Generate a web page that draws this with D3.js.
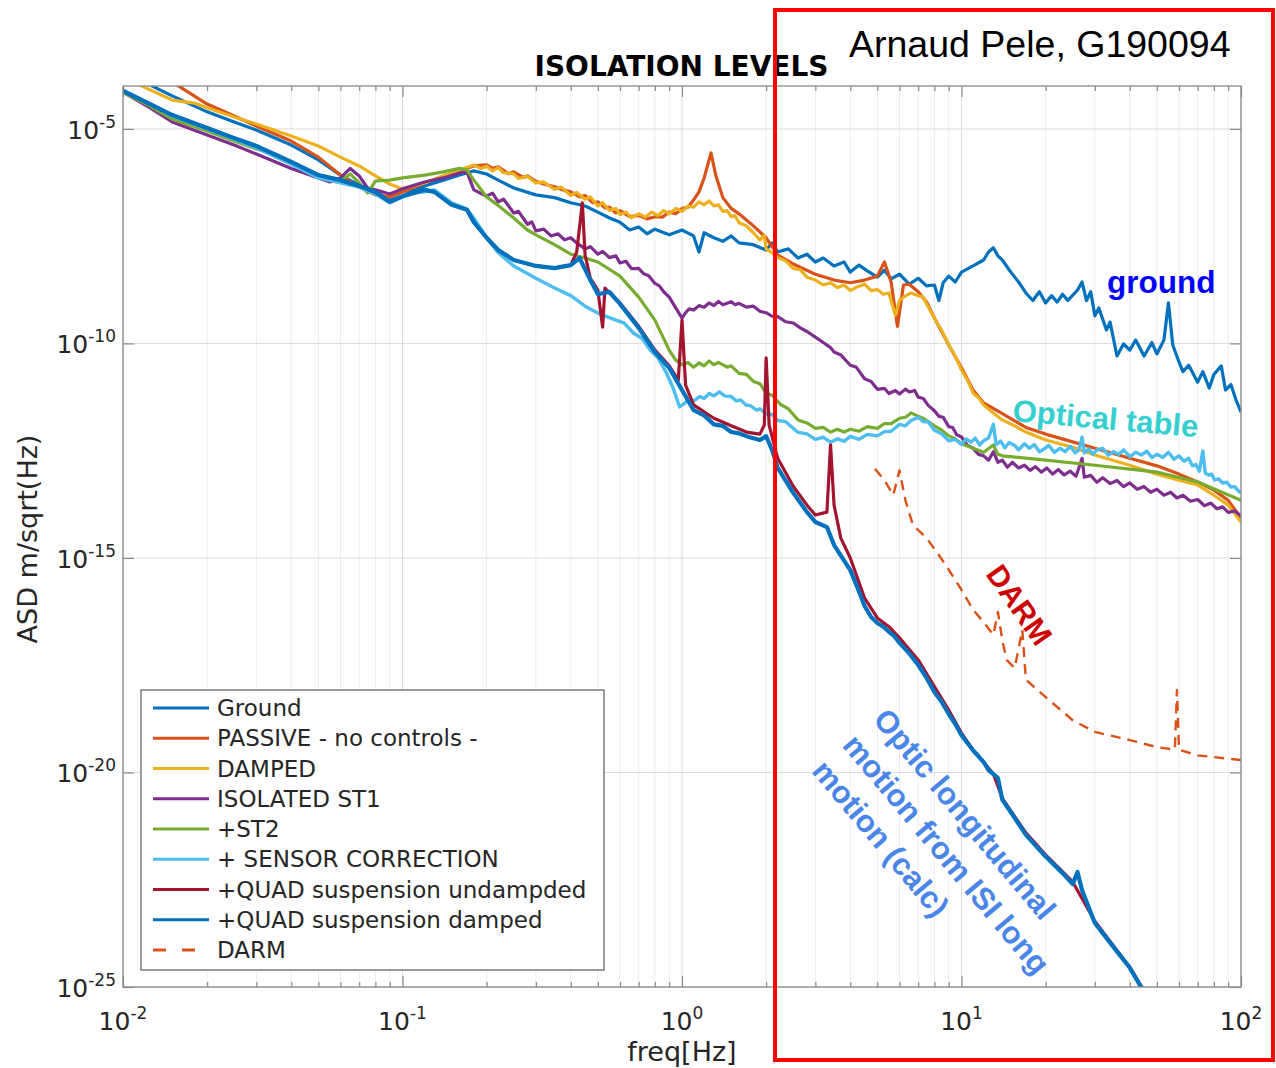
<!DOCTYPE html>
<html>
<head>
<meta charset="utf-8">
<script src="https://cdn.jsdelivr.net/npm/d3@7"></script>
<style>
  body { margin: 0; background: #fff; }
</style>
</head>
<body>
<svg id="chart" width="1276" height="1068"></svg>
<script>
// ---- data: [frequency (Hz), ASD (m/sqrt(Hz))] ----
const ground = [[0.01,1.8e-4],[0.0125,1.05e-4],[0.015,5.9e-5],[0.02,2.5e-5],[0.025,1.45e-5],[0.03,9.4e-6],[0.04,4.2e-6],[0.05,1.9e-6],[0.06,8.4e-7],[0.07,4.9e-7],[0.08,3.4e-7],[0.09,2.2e-7],[0.1,2.7e-7],[0.11,3.8e-7],[0.12,4.7e-7],[0.14,6.4e-7],[0.16,8.4e-7],[0.18,1.05e-6],[0.2,8.9e-7],[0.22,6.4e-7],[0.25,4.2e-7],[0.3,2.9e-7],[0.35,2.5e-7],[0.4,1.9e-7],[0.45,1.6e-7],[0.5,1.15e-7],[0.55,8.4e-8],[0.6,6.7e-8],[0.65,4.4e-8],[0.7,5.2e-8],[0.75,3.6e-8],[0.8,4.6e-8],[0.9,3.4e-8],[1.0,4.4e-8],[1.1,3.2e-8],[1.15,1.35e-8],[1.2,3.8e-8],[1.3,2.9e-8],[1.4,2.4e-8],[1.5,3.2e-8],[1.6,2.2e-8],[1.8,2.0e-8],[2.0,1.5e-8],[2.1,2.2e-8],[2.2,1.35e-8],[2.4,1.6e-8],[2.6,9.8e-9],[2.8,1.2e-8],[3.0,7.9e-9],[3.2,9.8e-9],[3.5,6.4e-9],[3.8,7.9e-9],[4.0,4.6e-9],[4.3,6.7e-9],[4.6,4.9e-9],[5.0,3.5e-9],[5.3,5.1e-9],[5.6,3.2e-9],[6.0,4.1e-9],[6.5,2.4e-9],[7.0,3.3e-9],[7.5,2.2e-9],[8.0,2.3e-9],[8.3,1.0e-9],[8.6,2.6e-9],[9.0,3.7e-9],[9.5,2.7e-9],[10,4.6e-9],[11,6.4e-9],[12,8.8e-9],[12.5,1.35e-8],[13,1.7e-8],[13.5,1.1e-8],[14,8.8e-9],[15,4.6e-9],[16,2.7e-9],[17,1.5e-9],[18,1.0e-9],[19,1.6e-9],[20,8.8e-10],[21,1.3e-9],[22,9.2e-10],[23,1.4e-9],[24,1.0e-9],[26,1.75e-9],[27,2.7e-9],[28,1.0e-9],[29,1.6e-9],[30,4.4e-10],[31,6.7e-10],[33,2.05e-10],[34,3.15e-10],[36,5.1e-11],[38,9.7e-11],[40,7.0e-11],[42,1.2e-10],[45,5.1e-11],[48,1.05e-10],[50,5.7e-11],[53,1.2e-10],[55,8.8e-10],[57,9.2e-11],[60,3.7e-11],[62,2.2e-11],[65,3.1e-11],[70,1.25e-11],[73,2.2e-11],[77,9.1e-12],[80,1.9e-11],[85,3.0e-11],[88,8.2e-12],[92,1.1e-11],[96,4.8e-12],[100,2.5e-12]];

const passive = [[0.01,5.3e-4],[0.0125,2.4e-4],[0.015,1.24e-4],[0.02,3.8e-5],[0.025,2.0e-5],[0.03,1.17e-5],[0.04,5.2e-6],[0.05,2.2e-6],[0.06,8.4e-7],[0.07,4.4e-7],[0.08,2.9e-7],[0.09,2.6e-7],[0.1,3.4e-7],[0.12,5.5e-7],[0.14,8.0e-7],[0.16,1.05e-6],[0.18,1.37e-6],[0.2,1.45e-6],[0.21,1.2e-6],[0.22,1.3e-6],[0.24,9.0e-7],[0.25,1.0e-6],[0.27,7.4e-7],[0.28,8.0e-7],[0.3,6.0e-7],[0.32,5.2e-7],[0.35,4.5e-7],[0.37,3.9e-7],[0.4,3.4e-7],[0.43,2.6e-7],[0.45,2.8e-7],[0.48,1.9e-7],[0.5,2.0e-7],[0.53,1.45e-7],[0.55,1.5e-7],[0.58,1.1e-7],[0.6,1.25e-7],[0.65,9.0e-8],[0.7,9.6e-8],[0.75,8.0e-8],[0.8,9.0e-8],[0.85,8.8e-8],[0.9,1.15e-7],[0.95,1.05e-7],[1.0,1.4e-7],[1.05,1.5e-7],[1.1,2.2e-7],[1.15,3.4e-7],[1.2,7.2e-7],[1.27,2.75e-6],[1.32,8.4e-7],[1.4,2.5e-7],[1.5,1.4e-7],[1.6,1.05e-7],[1.8,5.5e-8],[2.0,2.9e-8],[2.2,1.15e-8],[2.5,7.1e-9],[3.0,4.1e-9],[3.5,3.0e-9],[4.0,2.6e-9],[4.5,3.0e-9],[5.0,3.7e-9],[5.3,7.9e-9],[5.6,2.7e-9],[5.9,2.5e-10],[6.2,2.3e-9],[6.5,2.4e-9],[7.0,1.6e-9],[7.5,9.2e-10],[8.0,3.9e-10],[9.0,9.2e-11],[10,2.7e-11],[11,8.2e-12],[12,4.1e-12],[14,2.3e-12],[17,1.1e-12],[20,7.7e-13],[30,3.6e-13],[40,2.1e-13],[50,1.4e-13],[60,9.0e-14],[70,5.9e-14],[80,3.8e-14],[90,2.2e-14],[100,8.5e-15]];

const damped = [[0.01,1.6e-4],[0.0125,8.1e-5],[0.015,4.7e-5],[0.018,4.0e-5],[0.02,3.1e-5],[0.025,1.9e-5],[0.03,1.3e-5],[0.04,6.8e-6],[0.05,4.0e-6],[0.06,2.2e-6],[0.07,1.37e-6],[0.08,8.0e-7],[0.09,5.2e-7],[0.1,4.0e-7],[0.12,5.5e-7],[0.14,8.0e-7],[0.16,1.1e-6],[0.18,1.45e-6],[0.19,1.2e-6],[0.2,1.35e-6],[0.21,1.05e-6],[0.22,1.25e-6],[0.23,9.5e-7],[0.25,9.0e-7],[0.26,7.0e-7],[0.28,7.8e-7],[0.3,5.5e-7],[0.32,5.8e-7],[0.35,3.9e-7],[0.37,4.4e-7],[0.4,2.8e-7],[0.42,3.3e-7],[0.45,2.3e-7],[0.47,2.6e-7],[0.5,1.6e-7],[0.52,1.9e-7],[0.55,1.25e-7],[0.58,1.4e-7],[0.6,1.0e-7],[0.63,1.15e-7],[0.66,8.5e-8],[0.7,1.05e-7],[0.74,8.8e-8],[0.78,1.15e-7],[0.82,9.5e-8],[0.86,1.25e-7],[0.9,1.05e-7],[0.95,1.4e-7],[1.0,1.2e-7],[1.05,1.6e-7],[1.1,1.5e-7],[1.15,2.0e-7],[1.2,1.7e-7],[1.25,2.1e-7],[1.3,1.6e-7],[1.35,1.7e-7],[1.4,1.2e-7],[1.45,1.25e-7],[1.5,9.0e-8],[1.55,9.5e-8],[1.6,6.5e-8],[1.7,5.5e-8],[1.8,3.8e-8],[1.9,2.6e-8],[1.97,3.3e-8],[2.0,1.6e-8],[2.1,1.3e-8],[2.2,1.0e-8],[2.35,8.4e-9],[2.5,5.6e-9],[2.65,5.2e-9],[2.8,3.5e-9],[3.0,3.0e-9],[3.2,2.3e-9],[3.4,2.6e-9],[3.6,2.0e-9],[3.8,2.3e-9],[4.0,1.7e-9],[4.25,2.1e-9],[4.5,2.4e-9],[4.75,1.7e-9],[5.0,1.8e-9],[5.25,1.4e-9],[5.5,1.5e-9],[5.8,4.5e-10],[6.0,1.0e-9],[6.2,1.2e-9],[6.6,1.5e-9],[7.0,1.3e-9],[7.3,1.2e-9],[7.5,8.3e-10],[8.0,3.9e-10],[8.5,2.0e-10],[9.0,9.2e-11],[9.5,5.0e-11],[10,2.4e-11],[10.5,1.4e-11],[11,7.0e-12],[11.5,5.4e-12],[12,3.7e-12],[13,2.4e-12],[14,1.65e-12],[15.5,1.2e-12],[17,8.6e-13],[20,5.6e-13],[25,3.8e-13],[30,2.5e-13],[40,1.45e-13],[50,9.0e-14],[60,6.5e-14],[70,5.0e-14],[80,2.9e-14],[90,1.7e-14],[100,6.9e-15]];

const isolatedSt1 = [[0.01,7.2e-5],[0.0125,3.1e-5],[0.015,1.45e-5],[0.02,7.2e-6],[0.025,4.2e-6],[0.03,2.6e-6],[0.04,1.2e-6],[0.05,7.2e-7],[0.055,5.8e-7],[0.06,7.2e-7],[0.065,1.2e-6],[0.07,8.0e-7],[0.075,4.2e-7],[0.08,3.8e-7],[0.09,3.05e-7],[0.1,4.0e-7],[0.12,5.8e-7],[0.14,7.2e-7],[0.16,9.4e-7],[0.17,1.0e-6],[0.18,3.8e-7],[0.2,2.7e-7],[0.21,3.2e-7],[0.22,2.0e-7],[0.23,2.3e-7],[0.25,1.1e-7],[0.26,1.2e-7],[0.28,6.0e-8],[0.29,6.8e-8],[0.3,4.2e-8],[0.32,4.6e-8],[0.34,3.2e-8],[0.36,3.6e-8],[0.38,2.6e-8],[0.4,2.9e-8],[0.42,2.2e-8],[0.45,1.6e-8],[0.47,1.8e-8],[0.5,1.2e-8],[0.52,1.4e-8],[0.55,1.0e-8],[0.58,1.1e-8],[0.6,7.5e-9],[0.63,8.2e-9],[0.66,5.5e-9],[0.7,5.6e-9],[0.73,4.2e-9],[0.76,3.8e-9],[0.8,2.5e-9],[0.83,2.2e-9],[0.86,1.6e-9],[0.9,1.2e-9],[0.94,7.5e-10],[0.97,5.4e-10],[1.0,3.9e-10],[1.03,5.2e-10],[1.06,6.4e-10],[1.1,6.0e-10],[1.15,7.6e-10],[1.2,7.0e-10],[1.25,8.8e-10],[1.3,7.6e-10],[1.35,9.5e-10],[1.4,8.0e-10],[1.5,9.4e-10],[1.55,8.0e-10],[1.6,8.6e-10],[1.7,7.0e-10],[1.8,7.4e-10],[1.9,5.6e-10],[2.0,5.2e-10],[2.1,4.3e-10],[2.2,4.2e-10],[2.35,3.2e-10],[2.5,3.0e-10],[2.65,2.3e-10],[2.8,1.9e-10],[3.0,1.4e-10],[3.2,1.05e-10],[3.4,8.0e-11],[3.5,6.3e-11],[3.7,5.4e-11],[4.0,3.1e-11],[4.2,2.8e-11],[4.5,1.5e-11],[4.75,1.3e-11],[5.0,8.5e-12],[5.3,9.0e-12],[5.5,6.8e-12],[5.8,8.0e-12],[6.0,6.6e-12],[6.3,8.6e-12],[6.5,7.4e-12],[6.8,8.0e-12],[7.0,5.6e-12],[7.3,5.2e-12],[7.6,3.6e-12],[8.0,2.7e-12],[8.3,2.0e-12],[8.6,1.9e-12],[9.0,1.15e-12],[9.3,1.1e-12],[9.6,7.5e-13],[10,6.6e-13],[10.5,4.2e-13],[11,3.6e-13],[11.5,2.6e-13],[12,2.4e-13],[12.5,1.9e-13],[13,3.0e-13],[13.5,1.7e-13],[14,1.9e-13],[14.6,1.3e-13],[15.2,1.7e-13],[16,1.25e-13],[16.8,1.45e-13],[17.6,1.1e-13],[18.4,1.35e-13],[19.3,1.0e-13],[20.2,1.25e-13],[21.2,9.0e-14],[22.2,1.15e-13],[23.3,8.6e-14],[24.5,1.05e-13],[25.7,8.0e-14],[27,2.1e-13],[27.5,7.6e-14],[29,8.4e-14],[30.5,5.8e-14],[32,7.4e-14],[34,5.4e-14],[36,6.4e-14],[38,4.6e-14],[40,5.6e-14],[42.5,4.0e-14],[45,4.6e-14],[47.5,3.4e-14],[50,4.0e-14],[53,2.9e-14],[56,3.4e-14],[59,2.5e-14],[62,2.9e-14],[66,2.1e-14],[70,2.3e-14],[74,1.65e-14],[78,1.9e-14],[82,1.4e-14],[86,1.55e-14],[90,1.15e-14],[95,1.25e-14],[100,9.5e-15]];

const st2 = [[0.01,7.2e-5],[0.0125,3.4e-5],[0.015,1.7e-5],[0.02,8.9e-6],[0.025,5.2e-6],[0.03,3.4e-6],[0.035,2.6e-6],[0.04,1.7e-6],[0.05,7.6e-7],[0.06,6.1e-7],[0.065,8.9e-7],[0.07,5.5e-7],[0.075,3.2e-7],[0.08,6.1e-7],[0.09,6.4e-7],[0.1,7.2e-7],[0.12,8.4e-7],[0.14,1.0e-6],[0.16,1.2e-6],[0.17,1.1e-6],[0.18,6.4e-7],[0.2,2.6e-7],[0.22,1.65e-7],[0.25,8.4e-8],[0.28,4.4e-8],[0.3,3.4e-8],[0.35,2.0e-8],[0.4,1.2e-8],[0.45,9.8e-9],[0.5,7.9e-9],[0.6,3.7e-9],[0.7,1.2e-9],[0.8,3.5e-10],[0.9,7.0e-11],[0.95,4.1e-11],[1.0,3.2e-11],[1.05,3.6e-11],[1.1,2.8e-11],[1.15,3.5e-11],[1.2,3.0e-11],[1.25,3.9e-11],[1.3,3.2e-11],[1.35,3.6e-11],[1.45,2.8e-11],[1.5,3.0e-11],[1.6,2.0e-11],[1.7,1.9e-11],[1.8,1.3e-11],[1.9,1.15e-11],[2.0,7.0e-12],[2.1,6.2e-12],[2.25,3.8e-12],[2.4,3.0e-12],[2.6,1.65e-12],[2.8,1.4e-12],[3.0,1.05e-12],[3.2,1.1e-12],[3.4,8.6e-13],[3.6,1.0e-12],[3.8,8.6e-13],[4.0,1.0e-12],[4.3,9.0e-13],[4.6,1.15e-12],[5.0,1.05e-12],[5.3,1.35e-12],[5.6,1.35e-12],[6.0,1.8e-12],[6.3,1.9e-12],[6.6,2.4e-12],[7.0,2.0e-12],[7.3,1.8e-12],[7.6,1.5e-12],[8.0,1.2e-12],[8.5,9.5e-13],[9.0,7.0e-13],[9.5,6.0e-13],[10,4.6e-13],[11,3.6e-13],[12,2.9e-13],[13,4.3e-13],[13.5,2.6e-13],[14,2.4e-13],[20,1.9e-13],[30,1.45e-13],[50,1.0e-13],[70,5.9e-14],[100,2.2e-14]];

const sensorCorrection = [[0.01,8.1e-5],[0.0125,3.8e-5],[0.015,2.0e-5],[0.02,1.0e-5],[0.025,5.8e-6],[0.03,3.6e-6],[0.04,1.5e-6],[0.05,7.2e-7],[0.06,5.5e-7],[0.07,4.4e-7],[0.08,3.05e-7],[0.09,1.9e-7],[0.1,2.6e-7],[0.11,3.2e-7],[0.12,3.4e-7],[0.13,3.8e-7],[0.15,1.9e-7],[0.17,1.35e-7],[0.18,8.4e-8],[0.2,2.9e-8],[0.22,1.3e-8],[0.25,6.4e-9],[0.3,3.3e-9],[0.35,1.95e-9],[0.4,1.3e-9],[0.45,7.4e-10],[0.5,5.1e-10],[0.58,3.5e-10],[0.62,3.0e-10],[0.67,1.75e-10],[0.72,1.3e-10],[0.77,7.0e-11],[0.82,4.6e-11],[0.88,2.05e-11],[0.93,9.0e-12],[0.98,3.3e-12],[1.02,4.0e-12],[1.05,4.8e-12],[1.1,4.6e-12],[1.16,5.8e-12],[1.2,5.2e-12],[1.25,6.8e-12],[1.3,6.0e-12],[1.36,7.4e-12],[1.42,6.0e-12],[1.5,5.8e-12],[1.56,4.6e-12],[1.62,4.8e-12],[1.7,3.6e-12],[1.75,3.6e-12],[1.85,2.8e-12],[1.9,3.0e-12],[2.0,2.3e-12],[2.1,2.2e-12],[2.2,1.6e-12],[2.35,1.5e-12],[2.5,1.05e-12],[2.6,8.5e-13],[2.8,7.8e-13],[3.0,5.8e-13],[3.2,6.5e-13],[3.4,5.0e-13],[3.6,6.0e-13],[3.8,5.2e-13],[4.0,6.8e-13],[4.3,5.8e-13],[4.6,7.6e-13],[5.0,7.0e-13],[5.3,8.8e-13],[5.6,9.0e-13],[6.0,1.3e-12],[6.3,1.2e-12],[6.6,1.6e-12],[7.0,1.9e-12],[7.3,1.5e-12],[7.6,1.5e-12],[8.0,9.5e-13],[8.5,7.8e-13],[9.0,5.4e-13],[9.5,5.8e-13],[10,4.4e-13],[10.4,6.0e-13],[10.8,5.0e-13],[11.2,6.2e-13],[11.6,4.3e-13],[12,5.4e-13],[12.5,6.3e-13],[13,1.3e-12],[13.3,4.4e-13],[13.8,5.3e-13],[14.3,3.7e-13],[14.8,4.9e-13],[15.5,4.2e-13],[16,3.3e-13],[16.8,4.6e-13],[17.5,3.6e-13],[18.2,4.4e-13],[19,3.0e-13],[19.8,3.5e-13],[20.5,4.2e-13],[21.5,2.9e-13],[22.5,3.6e-13],[23.5,3.0e-13],[24.5,4.0e-13],[25.5,2.8e-13],[26.3,3.3e-13],[27,6.5e-13],[27.5,2.8e-13],[28.5,3.5e-13],[29.5,2.6e-13],[30.5,3.3e-13],[32,3.6e-13],[33.5,2.5e-13],[35,3.0e-13],[36.5,2.6e-13],[38,3.3e-13],[40,2.3e-13],[42,2.9e-13],[44,2.5e-13],[46,3.1e-13],[48,2.2e-13],[50,2.6e-13],[52.5,2.2e-13],[55,2.9e-13],[57.5,2.0e-13],[60,2.4e-13],[62.5,1.8e-13],[65,2.1e-13],[67,1.4e-13],[69,1.5e-13],[71,1.05e-13],[73,3.1e-13],[74.5,9.5e-14],[76.5,8.5e-14],[78.5,9.0e-14],[80.5,6.6e-14],[83,7.0e-14],[86,5.6e-14],[89,5.8e-14],[92,4.5e-14],[95,4.6e-14],[98,3.6e-14],[100,3.3e-14]];

const quadUndamped = [[0.01,7.65e-5],[0.0125,3.8e-5],[0.015,2.1e-5],[0.02,1.05e-5],[0.025,6.1e-6],[0.03,4.0e-6],[0.04,1.7e-6],[0.05,8.4e-7],[0.06,6.4e-7],[0.07,4.7e-7],[0.08,3.4e-7],[0.09,2.0e-7],[0.1,2.7e-7],[0.12,3.8e-7],[0.13,3.4e-7],[0.15,1.7e-7],[0.17,1.3e-7],[0.18,6.7e-8],[0.2,2.9e-8],[0.22,1.5e-8],[0.25,8.8e-9],[0.3,6.4e-9],[0.35,5.7e-9],[0.4,6.7e-9],[0.42,1.35e-8],[0.44,1.9e-7],[0.45,1.15e-8],[0.47,3.3e-9],[0.5,1.75e-9],[0.52,2.4e-10],[0.53,1.95e-9],[0.55,1.5e-9],[0.6,8.8e-10],[0.7,2.5e-10],[0.8,7.0e-11],[0.9,3.0e-11],[0.97,1.4e-11],[1.0,3.5e-10],[1.03,1.07e-11],[1.1,3.7e-12],[1.3,1.8e-12],[1.5,1.2e-12],[1.7,8.6e-13],[1.9,7.7e-13],[1.97,1.25e-12],[2.0,4.6e-11],[2.05,1.25e-12],[2.2,2.1e-13],[2.5,4.7e-14],[2.8,1.7e-14],[3.0,1.0e-14],[3.3,1.17e-14],[3.4,4.3e-13],[3.5,1.7e-14],[3.7,2.9e-15],[4.0,1.0e-15],[4.5,1.16e-16],[5.0,4.0e-17],[5.5,2.5e-17],[6.0,1.37e-17],[7.0,4.2e-18],[8.0,1.0e-18],[9.0,2.85e-19],[10,8.3e-20],[11,3.3e-20],[12,1.75e-20],[13,9.2e-21],[14,2.5e-21],[17,3.9e-22],[20,1.2e-22],[25,2.8e-23],[30,3.4e-24],[35,9.0e-25],[40,2.9e-25],[45,8.0e-26]];

const quadDamped = [[0.01,7.65e-5],[0.0125,3.8e-5],[0.015,2.1e-5],[0.02,1.05e-5],[0.025,6.1e-6],[0.03,4.0e-6],[0.04,1.7e-6],[0.05,8.4e-7],[0.06,6.4e-7],[0.07,4.7e-7],[0.08,3.4e-7],[0.09,2.0e-7],[0.1,2.7e-7],[0.12,3.8e-7],[0.13,3.4e-7],[0.15,1.7e-7],[0.17,1.3e-7],[0.18,6.7e-8],[0.2,2.9e-8],[0.22,1.5e-8],[0.25,8.8e-9],[0.3,6.4e-9],[0.35,5.7e-9],[0.4,6.7e-9],[0.43,9.8e-9],[0.47,3.0e-9],[0.5,1.4e-9],[0.55,1.6e-9],[0.6,8.3e-10],[0.7,2.3e-10],[0.8,6.3e-11],[0.9,2.7e-11],[1.0,8.2e-12],[1.1,2.8e-12],[1.2,2.1e-12],[1.3,1.3e-12],[1.4,1.2e-12],[1.5,8.6e-13],[1.6,8.0e-13],[1.7,6.9e-13],[1.8,6.2e-13],[1.9,5.6e-13],[2.0,6.9e-13],[2.1,3.3e-13],[2.2,1.25e-13],[2.5,3.3e-14],[2.8,1.17e-14],[3.0,6.9e-15],[3.3,5.25e-15],[3.5,2.0e-15],[4.0,5.2e-16],[4.25,2.0e-16],[4.5,7.6e-17],[4.75,4.2e-17],[5.0,3.05e-17],[5.25,2.5e-17],[5.5,1.9e-17],[5.75,1.5e-17],[6.0,1.05e-17],[6.5,6.0e-18],[7.0,3.2e-18],[7.5,1.6e-18],[8.0,7.5e-19],[8.5,4.4e-19],[9.0,2.3e-19],[9.5,1.35e-19],[10,7.4e-20],[11,3.3e-20],[12,1.75e-20],[12.5,1.14e-20],[13,9.2e-21],[13.5,7.4e-21],[14,2.3e-21],[15,1.2e-21],[17,3.5e-22],[20,1.1e-22],[23,4.5e-23],[25,2.5e-23],[26,4.8e-23],[27,1.8e-23],[30,3.1e-24],[35,8.5e-25],[40,2.8e-25],[45,7.6e-26]];

const darm = [[4.9,1.2e-13],[5.3,6.5e-14],[5.7,2.9e-14],[6.0,1.1e-13],[6.3,2.2e-14],[6.7,5.9e-15],[7.5,2.9e-15],[8.3,1.17e-15],[9,5.3e-16],[10,1.8e-16],[11,6.2e-17],[12,3.2e-17],[13,1.6e-17],[13.5,5.5e-17],[14,1.2e-17],[14.5,4.2e-18],[15.5,2.7e-18],[16.5,2.1e-17],[17,1.45e-18],[20,5.7e-19],[25,1.65e-19],[30,8.8e-20],[40,5.7e-20],[50,3.9e-20],[58,3.4e-20],[59,8.3e-19],[60,3.4e-20],[70,2.5e-20],[100,1.95e-20]];

const seriesLabels = ["Ground", "PASSIVE - no controls -", "DAMPED", "ISOLATED ST1", "+ST2",
  "+ SENSOR CORRECTION", "+QUAD suspension undampded", "+QUAD suspension damped", "DARM"];
const seriesData = [ground, passive, damped, isolatedSt1, st2, sensorCorrection, quadUndamped, quadDamped, darm];

const xTickValues = [0.01, 0.1, 1, 10, 100];
const xTickExponents = ["-2", "-1", "0", "1", "2"];
const yTickValues = [1e-5, 1e-10, 1e-15, 1e-20, 1e-25];
const yTickExponents = ["-5", "-10", "-15", "-20", "-25"];

// ---- styles ----
const seriesColors = ["#0072BD", "#D95319", "#EDB120", "#7E2F8E", "#77AC30", "#4DBEEE", "#A2142F", "#0072BD", "#D95319"];
const seriesWidths = [3.2, 3.2, 3.2, 3.2, 3.2, 3.4, 3.2, 4.2, 2.4];
const seriesDash = [null, null, null, null, null, null, null, null, "10,7"];

const margin = { left: 123, right: 1241, top: 86, bottom: 987 };
const svg = d3.select("#chart");
const plotFont = "'DejaVu Sans', sans-serif";
const noteFont = "'Liberation Sans', Arial, sans-serif";

const x = d3.scaleLog().domain([0.01, 100]).range([margin.left, margin.right]);
const y = d3.scaleLog().domain([1e-25, 1e-4]).range([margin.bottom, margin.top]);

svg.append("rect").attr("width", 1276).attr("height", 1068).attr("fill", "#fff");

// grid
const minorX = x.ticks().filter(v => !xTickValues.some(t => Math.abs(t - v) / t < 1e-9));
const grid = svg.append("g");
grid.selectAll("line.minor").data(minorX).join("line")
  .attr("x1", d => x(d)).attr("x2", d => x(d))
  .attr("y1", margin.top).attr("y2", margin.bottom)
  .attr("stroke", "#ededed").attr("stroke-width", 1);
grid.selectAll("line.mx").data(xTickValues).join("line")
  .attr("x1", d => x(d)).attr("x2", d => x(d))
  .attr("y1", margin.top).attr("y2", margin.bottom)
  .attr("stroke", "#dcdcdc").attr("stroke-width", 1);
grid.selectAll("line.my").data(yTickValues).join("line")
  .attr("x1", margin.left).attr("x2", margin.right)
  .attr("y1", d => y(d)).attr("y2", d => y(d))
  .attr("stroke", "#dcdcdc").attr("stroke-width", 1);

// curves
svg.append("clipPath").attr("id", "plotClip").append("rect")
  .attr("x", margin.left).attr("y", margin.top)
  .attr("width", margin.right - margin.left).attr("height", margin.bottom - margin.top);

const line = d3.line().x(d => x(d[0])).y(d => y(d[1]));
const curves = svg.append("g").attr("clip-path", "url(#plotClip)");
seriesData.forEach((data, i) => {
  curves.append("path").datum(data)
    .attr("d", line)
    .attr("fill", "none")
    .attr("stroke", seriesColors[i])
    .attr("stroke-width", seriesWidths[i])
    .attr("stroke-linejoin", "round")
    .attr("stroke-dasharray", seriesDash[i]);
});

// axes box and ticks (pointing inward)
const axisColor = "#8a8a8a";
const axes = svg.append("g");
const addAxis = (gen, tf) => {
  const g = axes.append("g").attr("transform", tf).call(gen);
  g.select(".domain").remove();
  g.selectAll(".tick line").attr("stroke", axisColor).attr("stroke-width", 1.2);
  g.selectAll(".tick text").remove();
};
addAxis(d3.axisBottom(x).tickValues(xTickValues).tickSize(-11), `translate(0,${margin.bottom})`);
addAxis(d3.axisBottom(x).tickValues(minorX).tickSize(-5), `translate(0,${margin.bottom})`);
addAxis(d3.axisTop(x).tickValues(xTickValues).tickSize(-11), `translate(0,${margin.top})`);
addAxis(d3.axisTop(x).tickValues(minorX).tickSize(-5), `translate(0,${margin.top})`);
addAxis(d3.axisLeft(y).tickValues(yTickValues).tickSize(-11), `translate(${margin.left},0)`);
addAxis(d3.axisRight(y).tickValues(yTickValues).tickSize(-11), `translate(${margin.right},0)`);
axes.append("rect")
  .attr("x", margin.left).attr("y", margin.top)
  .attr("width", margin.right - margin.left).attr("height", margin.bottom - margin.top)
  .attr("fill", "none").attr("stroke", axisColor).attr("stroke-width", 1.3);

// tick labels with superscript exponents
const labelColor = "#262626";
xTickValues.forEach((v, i) => {
  const t = svg.append("text").attr("x", x(v)).attr("y", 1030)
    .attr("text-anchor", "middle").attr("fill", labelColor)
    .style("font-family", plotFont).style("font-size", "25px");
  t.append("tspan").text("10");
  t.append("tspan").attr("dy", -11).style("font-size", "17px").text(xTickExponents[i]);
});
yTickValues.forEach((v, i) => {
  const t = svg.append("text").attr("x", 116).attr("y", y(v) + 10)
    .attr("text-anchor", "end").attr("fill", labelColor)
    .style("font-family", plotFont).style("font-size", "25px");
  t.append("tspan").text("10");
  t.append("tspan").attr("dy", -11).style("font-size", "17px").text(yTickExponents[i]);
});

// axis labels and title
svg.append("text").attr("x", 682).attr("y", 1061).attr("text-anchor", "middle")
  .attr("fill", labelColor).style("font-family", plotFont).style("font-size", "27px").text("freq[Hz]");
svg.append("text").attr("transform", "translate(37,539) rotate(-90)").attr("text-anchor", "middle")
  .attr("fill", labelColor).style("font-family", plotFont).style("font-size", "27px").text("ASD m/sqrt(Hz)");
svg.append("text").attr("x", 681.5).attr("y", 76).attr("text-anchor", "middle")
  .attr("fill", "#000").style("font-family", plotFont).style("font-size", "28px")
  .style("font-weight", "bold").text("ISOLATION LEVELS");

// legend
const legend = svg.append("g");
legend.append("rect").attr("x", 141).attr("y", 690).attr("width", 463).attr("height", 280)
  .attr("fill", "#fff").attr("stroke", "#5a5a5a").attr("stroke-width", 1.2);
seriesLabels.forEach((name, i) => {
  const cy = 708 + i * 30.25;
  legend.append("line").attr("x1", 153).attr("x2", 209).attr("y1", cy).attr("y2", cy)
    .attr("stroke", seriesColors[i]).attr("stroke-width", 3)
    .attr("stroke-dasharray", seriesDash[i] ? "13,16" : null);
  legend.append("text").attr("x", 217).attr("y", cy + 8).attr("fill", labelColor)
    .style("font-family", plotFont).style("font-size", "23px").text(name);
});

// annotations
const note = (sel) => sel.style("font-family", noteFont);
note(svg.append("text")).attr("x", 849).attr("y", 57).attr("fill", "#000")
  .style("font-size", "37.5px").text("Arnaud Pele, G190094");
note(svg.append("text")).attr("x", 1107).attr("y", 293).attr("fill", "#0000FF")
  .style("font-size", "31.5px").style("font-weight", "bold").text("ground");
note(svg.append("text")).attr("transform", "translate(1012,421) rotate(5)").attr("fill", "#36CFCF")
  .style("font-size", "31px").style("font-weight", "bold").text("Optical table");
note(svg.append("text")).attr("transform", "translate(985,574) rotate(55)").attr("fill", "#CC0000")
  .style("font-size", "30px").style("font-weight", "bold").text("DARM");
const optic = note(svg.append("text")).attr("transform", "translate(872,720) rotate(50)")
  .attr("fill", "#4A86E8").style("font-size", "31px").style("font-weight", "bold");
["Optic longitudinal", "motion from ISI long", "motion (calc)"].forEach((s, i) => {
  optic.append("tspan").attr("x", 0).attr("y", i * 40).text(s);
});

// highlight frame
svg.append("rect").attr("x", 775).attr("y", 10).attr("width", 498).attr("height", 1050)
  .attr("fill", "none").attr("stroke", "#FF0000").attr("stroke-width", 4);
</script>
</body>
</html>
